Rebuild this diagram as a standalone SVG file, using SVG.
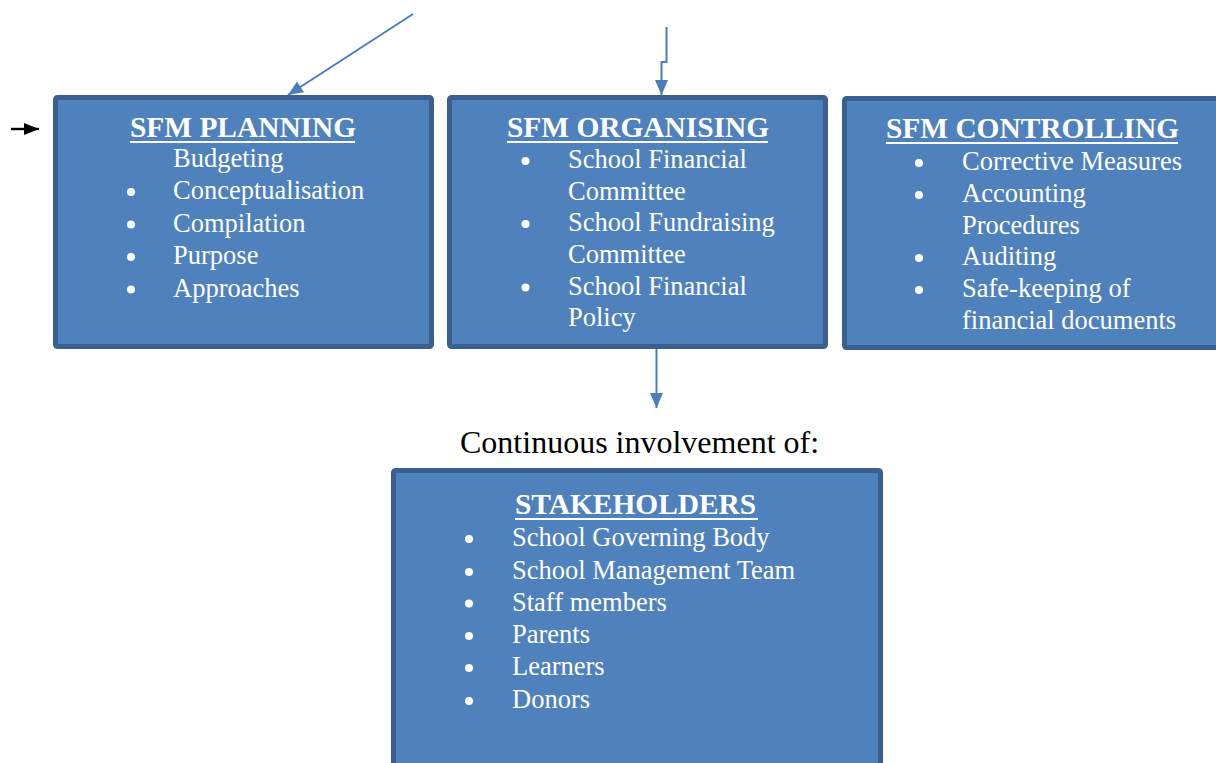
<svg xmlns="http://www.w3.org/2000/svg" width="1216" height="763" viewBox="0 0 1216 763">
  <style>
    .box { fill: #4f81bd; stroke: #3a6090; stroke-width: 5; }
    .title { font-family: "Liberation Serif", "Times New Roman", serif; font-size: 29.4px; font-weight: bold; fill: #ffffff; }
    .item { font-family: "Liberation Serif", "Times New Roman", serif; font-size: 26.5px; fill: #ffffff; }
    .rule { stroke: #ffffff; stroke-width: 2; }
    .dot { fill: #ffffff; }
    .link { fill: none; stroke: #4a7ebb; stroke-width: 2; }
    .caption { font-family: "Liberation Serif", "Times New Roman", serif; font-size: 32px; fill: #000000; }
  </style>
  <defs>
    <marker id="headBlue" markerUnits="userSpaceOnUse" markerWidth="16" markerHeight="16" viewBox="0 0 16 16" refX="15" refY="8" orient="auto">
      <path d="M0,1.5 L15,8 L0,14.5 Z" fill="#4a7ebb"/>
    </marker>
    <marker id="headBlack" markerUnits="userSpaceOnUse" markerWidth="16" markerHeight="16" viewBox="0 0 16 16" refX="15" refY="8" orient="auto">
      <path d="M0,2 L15,8 L0,14 Z" fill="#000000"/>
    </marker>
  </defs>

  <!-- connectors -->
  <g id="connectors">
    <line x1="11" y1="129" x2="39" y2="129" stroke="#000000" stroke-width="2.4" marker-end="url(#headBlack)"/>
    <line class="link" x1="413" y1="14" x2="288" y2="95" marker-end="url(#headBlue)"/>
    <path class="link" d="M666.5,27 V62 H661.5 V95" marker-end="url(#headBlue)"/>
    <line class="link" x1="656.5" y1="333" x2="656.5" y2="408" marker-end="url(#headBlue)"/>
  </g>

  <!-- planning -->
  <g id="planning">
    <rect class="box" x="55.5" y="97.5" width="376" height="249" rx="2"/>
    <text class="title" x="130" y="137">SFM PLANNING</text>
    <line class="rule" x1="130" y1="142" x2="355" y2="142"/>
    <text class="item" x="173" y="166.5">Budgeting</text>
    <circle class="dot" cx="131" cy="192" r="4"/>
    <text class="item" x="173" y="199">Conceptualisation</text>
    <circle class="dot" cx="131" cy="224.5" r="4"/>
    <text class="item" x="173" y="231.5">Compilation</text>
    <circle class="dot" cx="131" cy="257" r="4"/>
    <text class="item" x="173" y="264">Purpose</text>
    <circle class="dot" cx="131" cy="289.5" r="4"/>
    <text class="item" x="173" y="296.5">Approaches</text>
  </g>

  <!-- organising -->
  <g id="organising">
    <rect class="box" x="449.5" y="97.5" width="376" height="249" rx="2"/>
    <text class="title" x="507" y="137">SFM ORGANISING</text>
    <line class="rule" x1="507" y1="142" x2="768" y2="142"/>
    <circle class="dot" cx="525.5" cy="161" r="4"/>
    <text class="item" x="568" y="168">School Financial</text>
    <text class="item" x="568" y="199.5">Committee</text>
    <circle class="dot" cx="525.5" cy="224" r="4"/>
    <text class="item" x="568" y="231">School Fundraising</text>
    <text class="item" x="568" y="262.5">Committee</text>
    <circle class="dot" cx="525.5" cy="287.5" r="4"/>
    <text class="item" x="568" y="294.5">School Financial</text>
    <text class="item" x="568" y="326">Policy</text>
  </g>

  <!-- controlling -->
  <g id="controlling">
    <rect class="box" x="844.5" y="98.5" width="400" height="249" rx="2"/>
    <text class="title" x="886" y="138">SFM CONTROLLING</text>
    <line class="rule" x1="886" y1="143" x2="1178" y2="143"/>
    <circle class="dot" cx="919" cy="163" r="4"/>
    <text class="item" x="962" y="170">Corrective Measures</text>
    <circle class="dot" cx="919" cy="195" r="4"/>
    <text class="item" x="962" y="202">Accounting</text>
    <text class="item" x="962" y="233.5">Procedures</text>
    <circle class="dot" cx="919" cy="258" r="4"/>
    <text class="item" x="962" y="265">Auditing</text>
    <circle class="dot" cx="919" cy="290" r="4"/>
    <text class="item" x="962" y="297">Safe-keeping of</text>
    <text class="item" x="962" y="328.5">financial documents</text>
  </g>

  <text class="caption" x="460" y="453">Continuous involvement of:</text>

  <!-- stakeholders -->
  <g id="stakeholders">
    <rect class="box" x="393.5" y="470.5" width="487" height="320" rx="2"/>
    <text class="title" x="515" y="514">STAKEHOLDERS</text>
    <line class="rule" x1="515" y1="519" x2="758" y2="519"/>
    <circle class="dot" cx="469" cy="539" r="4"/>
    <text class="item" x="512" y="546">School Governing Body</text>
    <circle class="dot" cx="469" cy="572" r="4"/>
    <text class="item" x="512" y="579">School Management Team</text>
    <circle class="dot" cx="469" cy="603.5" r="4"/>
    <text class="item" x="512" y="610.5">Staff members</text>
    <circle class="dot" cx="469" cy="636" r="4"/>
    <text class="item" x="512" y="643">Parents</text>
    <circle class="dot" cx="469" cy="668" r="4"/>
    <text class="item" x="512" y="675">Learners</text>
    <circle class="dot" cx="469" cy="701" r="4"/>
    <text class="item" x="512" y="708">Donors</text>
  </g>
</svg>
